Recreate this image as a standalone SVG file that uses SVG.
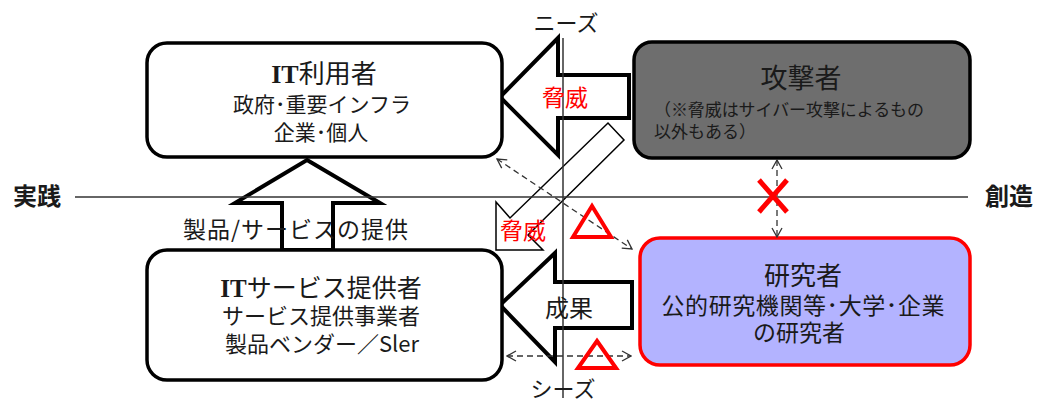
<svg xmlns="http://www.w3.org/2000/svg" width="1039" height="403" viewBox="0 0 1039 403">
<style>
text{font-family:"Noto Sans CJK JP","Noto Sans",sans-serif;fill:#1a1a1a}
.c{text-anchor:middle}
.box{stroke:#000;stroke-width:3.5}
.big{fill:#fff;stroke:#000;stroke-width:4;stroke-linejoin:miter}
.ax{stroke:#333;stroke-width:1.5;fill:none}
.dash{stroke:#333;stroke-width:1.3;stroke-dasharray:6 4;fill:none}
.tri{fill:none;stroke:#f00;stroke-width:4;stroke-linejoin:miter}
.red{fill:#f00}
.ser{font-family:"Liberation Serif",serif;font-weight:bold}
</style>
<defs>
<marker id="oa" viewBox="0 0 12 12" refX="11" refY="6" markerWidth="12" markerHeight="12" markerUnits="userSpaceOnUse" orient="auto-start-reverse">
<polyline points="2,1 11,6 2,11" fill="none" stroke="#333" stroke-width="1.3"/>
</marker>
</defs>

<g id="arrows-big">
<polygon class="big" points="307,160 380,203 333,203 333,250 282,250 282,203 235,203"/>
<polygon class="big" points="500,97 558,38 558,75 629,75 629,118 558,118 558,155"/>
<polygon class="big" points="500,305 555,253 555,282 632,282 632,328 555,328 555,362"/>
<polygon points="496,250 496,202 510,218 608,123 624,140 528,235 543,250" fill="#fff" stroke="#000" stroke-width="1.5"/>
</g>

<g id="it-user">
<rect class="box" x="147" y="43" width="355" height="114" rx="20" fill="#fff"/>
<text class="c" x="324" y="83" font-size="26"><tspan class="ser">IT</tspan>利用者</text>
<text class="c" x="322" y="112" font-size="21">政府･重要インフラ</text>
<text class="c" x="321" y="140" font-size="21">企業･個人</text>
</g>

<g id="attacker">
<rect class="box" x="634" y="42" width="336" height="116" rx="18" fill="#6e6e6e"/>
<text class="c" x="801" y="88" font-size="27">攻撃者</text>
<text x="654" y="116" font-size="17" textLength="270">（※脅威はサイバー攻撃によるもの</text>
<text x="654" y="138" font-size="17">以外もある）</text>
</g>

<g id="researcher">
<rect x="640" y="238" width="330" height="127" rx="20" fill="#b3b3ff" stroke="#f00" stroke-width="3.5"/>
<text class="c" x="803" y="285" font-size="26">研究者</text>
<text class="c" x="803" y="314" font-size="23" textLength="283">公的研究機関等･大学･企業</text>
<text class="c" x="799" y="341" font-size="23">の研究者</text>
</g>

<g id="it-service">
<rect class="box" x="147" y="250" width="355" height="130" rx="20" fill="#fff"/>
<text class="c" x="321" y="297" font-size="25"><tspan class="ser">IT</tspan>サービス提供者</text>
<text class="c" x="321" y="324" font-size="22">サービス提供事業者</text>
<text class="c" x="322" y="352" font-size="22">製品ベンダー／Sler</text>
</g>

<g id="axes">
<line class="ax" x1="75" y1="197" x2="968" y2="197"/>
<line class="ax" x1="563" y1="38" x2="563" y2="398"/>
</g>

<g id="connectors">
<line class="dash" x1="497" y1="159" x2="632" y2="249" marker-start="url(#oa)" marker-end="url(#oa)"/>
<line class="dash" x1="507" y1="356" x2="631" y2="356" marker-start="url(#oa)" marker-end="url(#oa)"/>
<line class="dash" x1="777" y1="160" x2="777" y2="237" marker-start="url(#oa)" marker-end="url(#oa)"/>
</g>

<g id="marks">
<polygon class="tri" points="592,206 611,237 573,237"/>
<polygon class="tri" points="597,341 616,368 578,368"/>
<path d="M759,180 L787,212 M787,180 L759,212" stroke="#f00" stroke-width="5" fill="none"/>
</g>

<g id="labels">
<text class="c" x="566" y="31" font-size="22">ニーズ</text>
<text class="c" x="563" y="397" font-size="22">シーズ</text>
<text class="c red" x="565" y="106" font-size="23" style="fill:#f00">脅威</text>
<text class="c" x="523" y="239" font-size="23" style="fill:#f00">脅威</text>
<text class="c" x="569" y="317" font-size="24">成果</text>
<text x="183" y="238" font-size="23" textLength="225">製品/サービスの提供</text>
<text x="13" y="205" font-size="24" font-weight="bold">実践</text>
<text x="985" y="205" font-size="24" font-weight="bold">創造</text>
</g>
</svg>
